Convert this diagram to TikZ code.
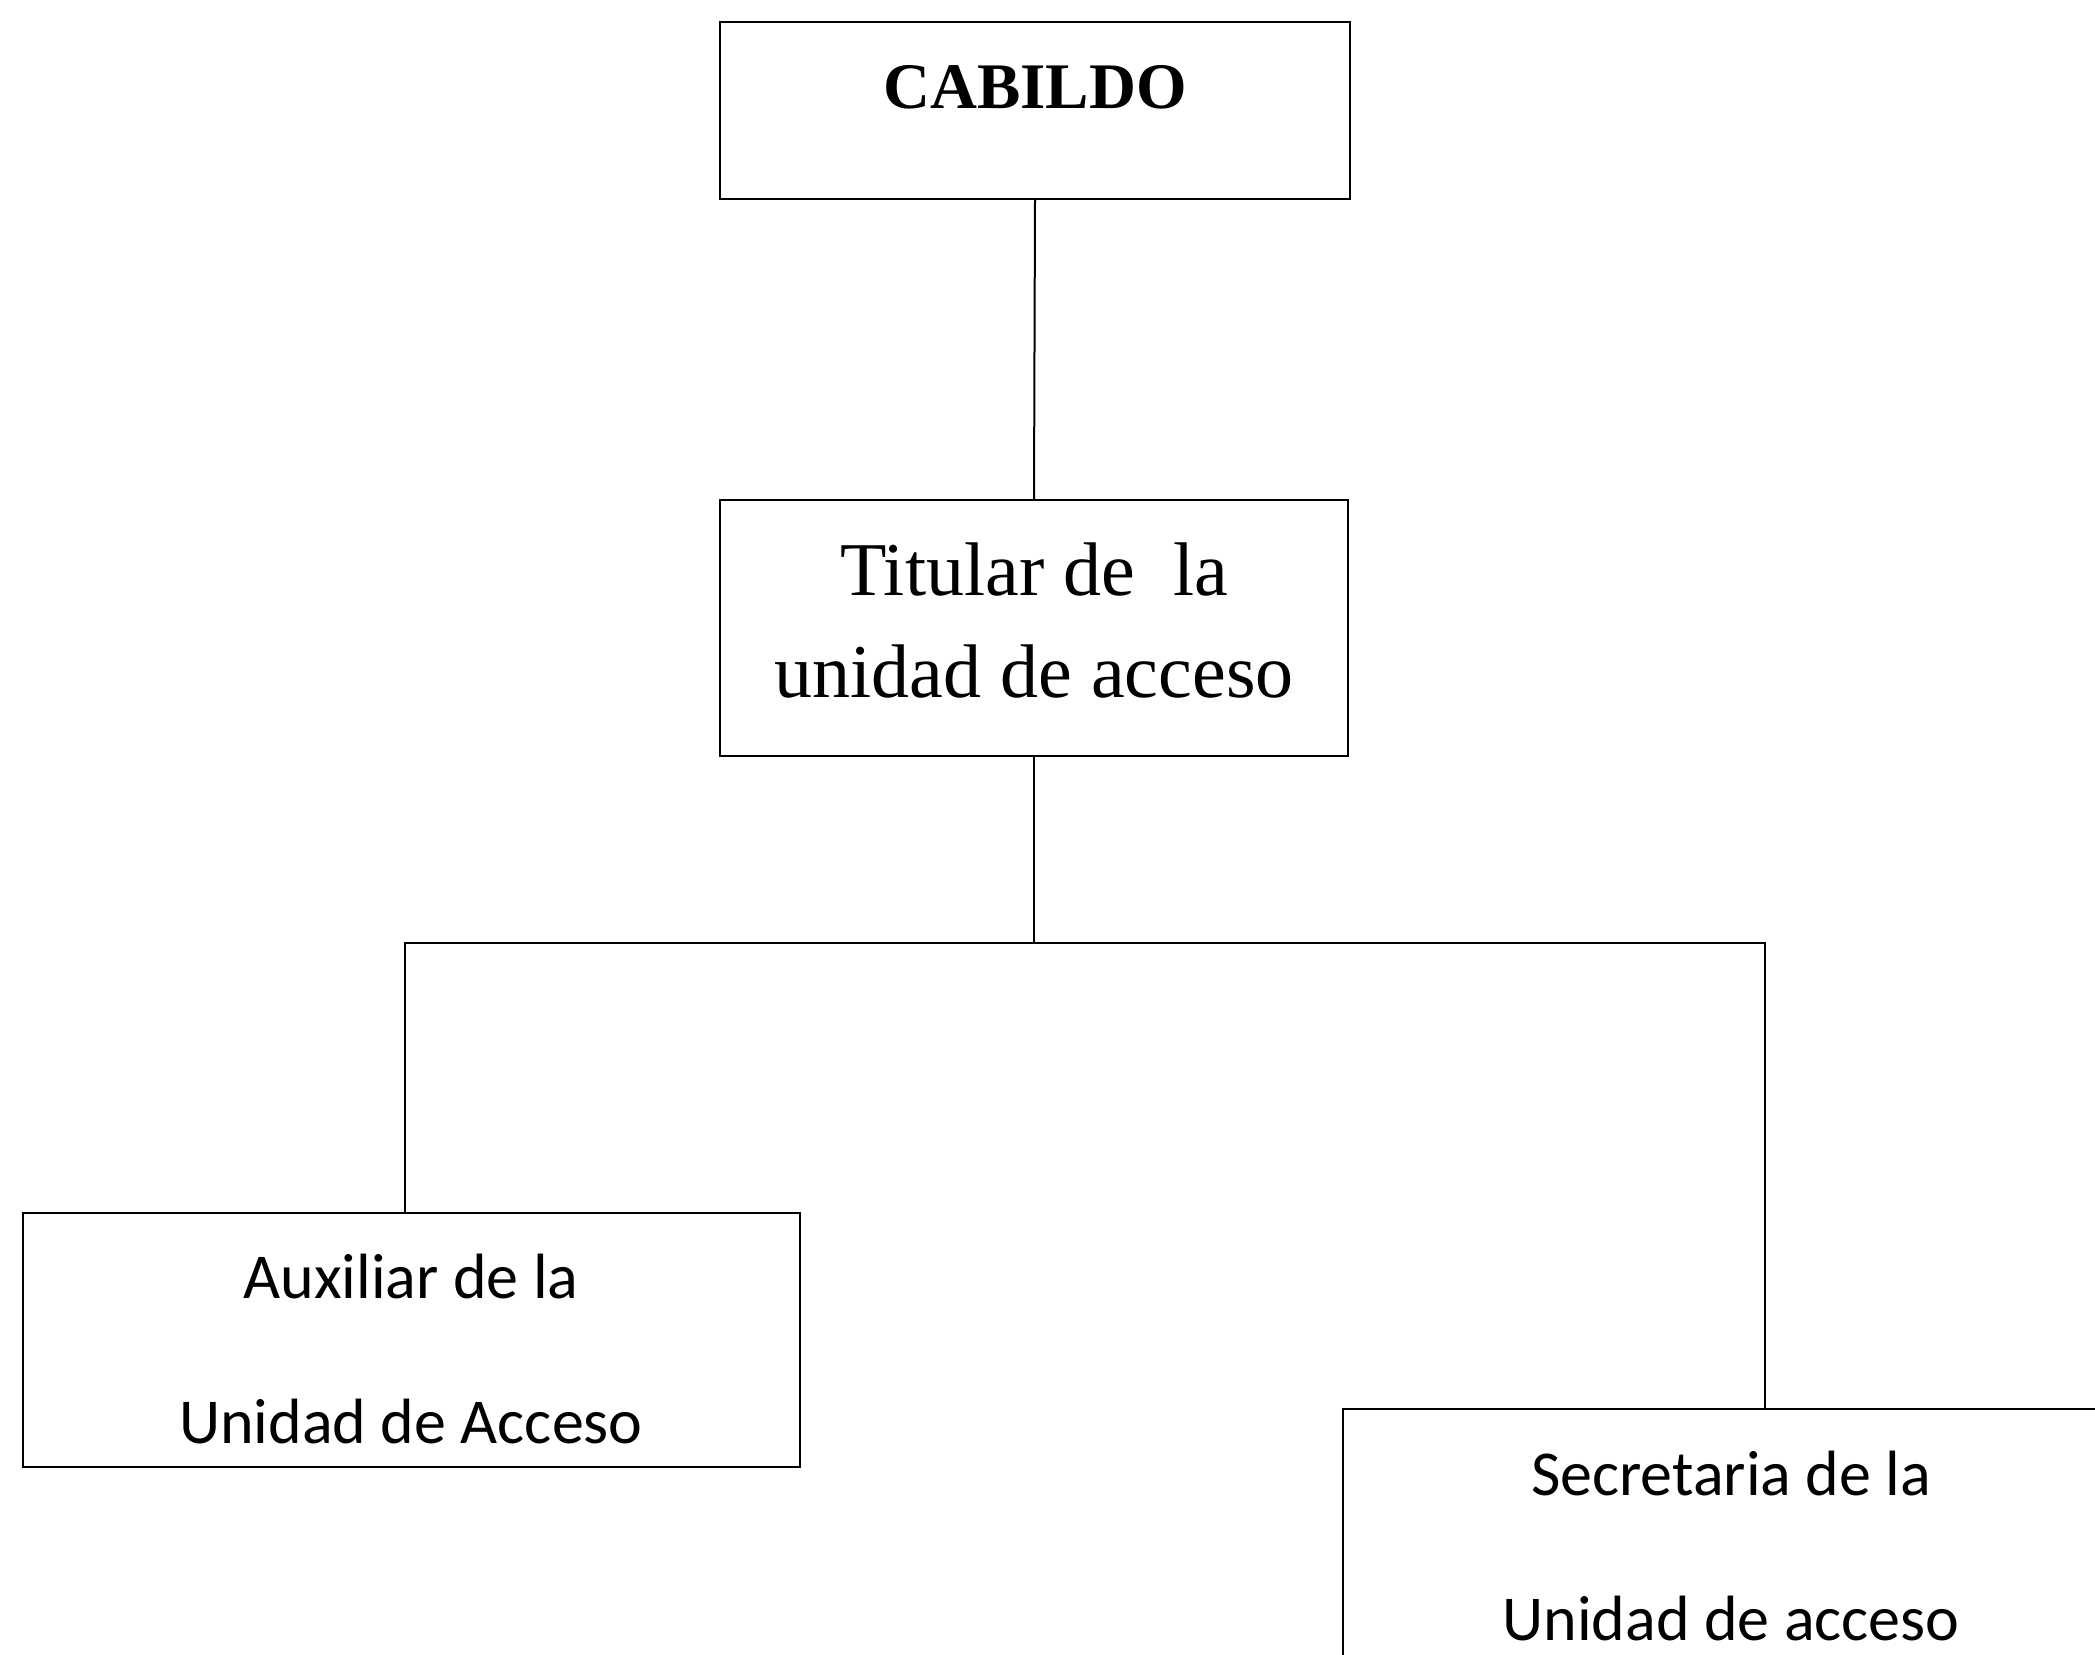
\documentclass[tikz,border=0pt]{standalone}
\usepackage{fontspec}
\setmainfont{Liberation Serif}
\newfontfamily\calfont{Carlito}
\begin{document}
\begin{tikzpicture}[x=0.5pt,y=-0.5pt,
  box/.style={draw, line width=1pt, inner sep=0pt, rectangle},
  conn/.style={draw, line width=1pt},
  serif/.style={anchor=base, inner sep=0pt, font=\fontsize{38}{46}\selectfont},
  sans/.style={anchor=base, inner sep=0pt, font=\calfont\fontsize{32}{38}\selectfont}]
\useasboundingbox (0,0) rectangle (2095,1655);
\fill[white] (0,0) rectangle (2095,1655);
\clip (0,0) rectangle (2095,1655);
\node[box, minimum width=315pt, minimum height=88.5pt] (cab) at (1035,110.5) {};
\node[box, minimum width=314pt, minimum height=128pt] (tit) at (1034,628) {};
\node[box, minimum width=388.5pt, minimum height=127pt] (aux) at (411.5,1340) {};
\node[box, minimum width=388pt, minimum height=145.5pt] (sec) at (1731,1554.5) {};
\node[anchor=base, inner sep=0pt, font=\bfseries\fontsize{32.5}{39}\selectfont] (tcab) at (1035,108) {CABILDO};
\node[serif] (tit1) at (1034,595) {Titular de\ \ la};
\node[serif] (tit2) at (1034,697) {unidad de acceso};
\node[sans] (aux1) at (411,1298) {Auxiliar de la};
\node[sans] (aux2) at (411,1443) {Unidad de Acceso};
\node[sans] (sec1) at (1731,1495) {Secretaria de la};
\node[sans] (sec2) at (1731,1640) {Unidad de acceso};
\coordinate (j) at (1034,943);
\coordinate (la) at (405,943);
\coordinate (ra) at (1765,943);
\draw[conn] (cab.south) -- (tit.north);
\draw[conn] (tit.south) -- (j);
\draw[conn] (la |- aux.north) -- (la) -- (ra) -- (ra |- sec.north);
\end{tikzpicture}
\end{document}
